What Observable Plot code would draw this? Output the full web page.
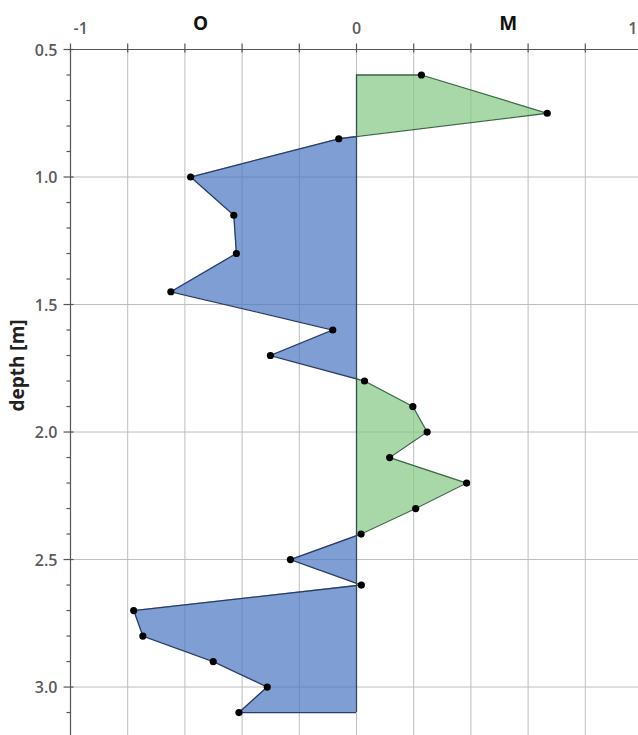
<!DOCTYPE html>
<html>
<head>
<meta charset="utf-8">
<script src="https://cdn.jsdelivr.net/npm/d3@7"></script>
<script src="https://cdn.jsdelivr.net/npm/@observablehq/plot@0.6"></script>
<style>
html, body { margin: 0; padding: 0; background: #fff; }
</style>
</head>
<body>
<div id="chart"></div>
<script>
// ---- data ----
const depths = [0.6, 0.75, 0.85, 1.0, 1.15, 1.3, 1.45, 1.6, 1.7, 1.8, 1.9, 2.0, 2.1, 2.2, 2.3, 2.4, 2.5, 2.6, 2.7, 2.8, 2.9, 3.0, 3.1];
const values = [0.227, 0.667, -0.062, -0.580, -0.429, -0.420, -0.649, -0.083, -0.301, 0.028, 0.197, 0.247, 0.116, 0.385, 0.207, 0.016, -0.231, 0.017, -0.779, -0.747, -0.501, -0.312, -0.411];

const xTicks = [-1, -0.8, -0.6, -0.4, -0.2, 0, 0.2, 0.4, 0.6, 0.8];
const xLabelValues = [-1, 0, 1];
const xTickLabels = ["-1", "0", "1"];
const yTicks = [0.5, 1.0, 1.5, 2.0, 2.5, 3.0];
const yTickLabels = ["0.5", "1.0", "1.5", "2.0", "2.5", "3.0"];
const yMinorTicks = [0.6, 0.7, 0.8, 0.9, 1.1, 1.2, 1.3, 1.4, 1.6, 1.7, 1.8, 1.9, 2.1, 2.2, 2.3, 2.4, 2.6, 2.7, 2.8, 2.9, 3.1];
const sideLabels = ["O", "M"];
const yLabel = "depth [m]";

const rows = depths.map((d, i) => ({depth: d, value: values[i]}));
const ends = [rows[0], rows[rows.length - 1]];

const navy = "#2b3c68", dkgreen = "#3b6a45", axisColor = "#555", gridColor = "#bdbdbd", labelColor = "#5a5a5a";

const vTick = (up, down) => ({draw(ctx) { ctx.moveTo(0, -up); ctx.lineTo(0, down); }});
const hTick = (left, right) => ({draw(ctx) { ctx.moveTo(-left, 0); ctx.lineTo(right, 0); }});

const chart = Plot.plot({
  width: 638,
  height: 735,
  marginTop: 49,
  marginLeft: 70,
  marginRight: 0,
  marginBottom: 0,
  style: {fontFamily: "'Open Sans', 'Liberation Sans', sans-serif", background: "#fff"},
  x: {domain: [-1, 0.986], axis: null},
  y: {domain: [0.5, 3.19], reverse: true, axis: null},
  marks: [
    // grid
    Plot.ruleX(xTicks.slice(1), {x: d => d, stroke: gridColor, strokeWidth: 1}),
    Plot.ruleY(yTicks.slice(1), {y: d => d, stroke: gridColor, strokeWidth: 1}),
    // fills
    Plot.areaX(rows, {y: "depth", x1: () => 0, x2: "value", fill: "#4876c2", fillOpacity: 0.7, ariaDescription: "neg"}),
    Plot.areaX(rows, {y: "depth", x1: () => 0, x2: "value", fill: "#83c783", fillOpacity: 0.7, ariaDescription: "pos"}),
    // outlines
    Plot.line(rows, {x: "value", y: "depth", stroke: navy, strokeWidth: 1.3, ariaDescription: "neg"}),
    Plot.line(rows, {x: "value", y: "depth", stroke: dkgreen, strokeWidth: 1.3, ariaDescription: "pos"}),
    Plot.ruleY(ends, {y: "depth", x1: () => 0, x2: "value", stroke: navy, strokeWidth: 1.3, ariaDescription: "neg"}),
    Plot.ruleY(ends, {y: "depth", x1: () => 0, x2: "value", stroke: dkgreen, strokeWidth: 1.3, ariaDescription: "pos"}),
    Plot.ruleX([0], {x: d => d, y1: () => depths[0], y2: () => depths[depths.length - 1], stroke: "#2f4a5a", strokeWidth: 1.3}),
    // axes
    Plot.ruleY([0.5], {y: d => d, stroke: axisColor, strokeWidth: 1.2}),
    Plot.ruleX([-1], {x: d => d, stroke: axisColor, strokeWidth: 1.2}),
    Plot.dot(xTicks, {x: d => d, y: () => 0.5, symbol: vTick(6, 3), r: 2, fill: "none", stroke: axisColor, strokeWidth: 1.2}),
    Plot.dot(yTicks, {x: () => -1, y: d => d, symbol: hTick(7, 3), r: 2, fill: "none", stroke: axisColor, strokeWidth: 1.2}),
    Plot.dot(yMinorTicks, {x: () => -1, y: d => d, symbol: hTick(4, 0), r: 2, fill: "none", stroke: axisColor, strokeWidth: 1.2}),
    // tick labels
    Plot.text(yTicks, {x: () => -1, y: d => d, text: (d, i) => yTickLabels[i], textAnchor: "end", dx: -13, dy: 1, fontSize: 16, fontWeight: 600, fill: labelColor}),
    Plot.text([xLabelValues[0]], {x: d => d, y: () => 0.5, text: () => xTickLabels[0], textAnchor: "start", dx: 3, dy: -21, fontSize: 16, fontWeight: 600, fill: labelColor}),
    Plot.text([xLabelValues[1]], {x: d => d, y: () => 0.5, text: () => xTickLabels[1], textAnchor: "middle", dy: -21, fontSize: 16, fontWeight: 600, fill: labelColor}),
    Plot.text([xLabelValues[2]], {x: d => d, y: () => 0.5, text: () => xTickLabels[2], textAnchor: "end", dx: -5, dy: -21, fontSize: 16, fontWeight: 600, fill: labelColor}),
    // side labels
    Plot.text(sideLabels, {x: (d, i) => [-0.545, 0.53][i], y: () => 0.5, text: d => d, dy: -26, fontSize: 19, fontWeight: "bold", fill: "#111"}),
    Plot.text([yLabel], {frameAnchor: "left", text: d => d, rotate: -90, textAnchor: "middle", dx: -53, dy: -27, fontSize: 19, fontWeight: "bold", fill: "#222"}),
    // points
    Plot.dot(rows, {x: "value", y: "depth", r: 3.6, fill: "#000", stroke: "none"})
  ]
});

// clip positive / negative halves at x = 0
const x0 = chart.scale("x").apply(0);
const ns = "http://www.w3.org/2000/svg";
const defs = document.createElementNS(ns, "defs");
function addClip(id, x, w) {
  const cp = document.createElementNS(ns, "clipPath");
  cp.setAttribute("id", id);
  const r = document.createElementNS(ns, "rect");
  r.setAttribute("x", x); r.setAttribute("y", -10);
  r.setAttribute("width", w); r.setAttribute("height", 760);
  cp.appendChild(r);
  defs.appendChild(cp);
}
addClip("clip-neg", -10, x0 + 10);
addClip("clip-pos", x0, 700);
chart.insertBefore(defs, chart.firstChild);
chart.querySelectorAll('[aria-description="neg"]').forEach(g => g.setAttribute("clip-path", "url(#clip-neg)"));
chart.querySelectorAll('[aria-description="pos"]').forEach(g => g.setAttribute("clip-path", "url(#clip-pos)"));

document.getElementById("chart").appendChild(chart);
</script>
</body>
</html>
